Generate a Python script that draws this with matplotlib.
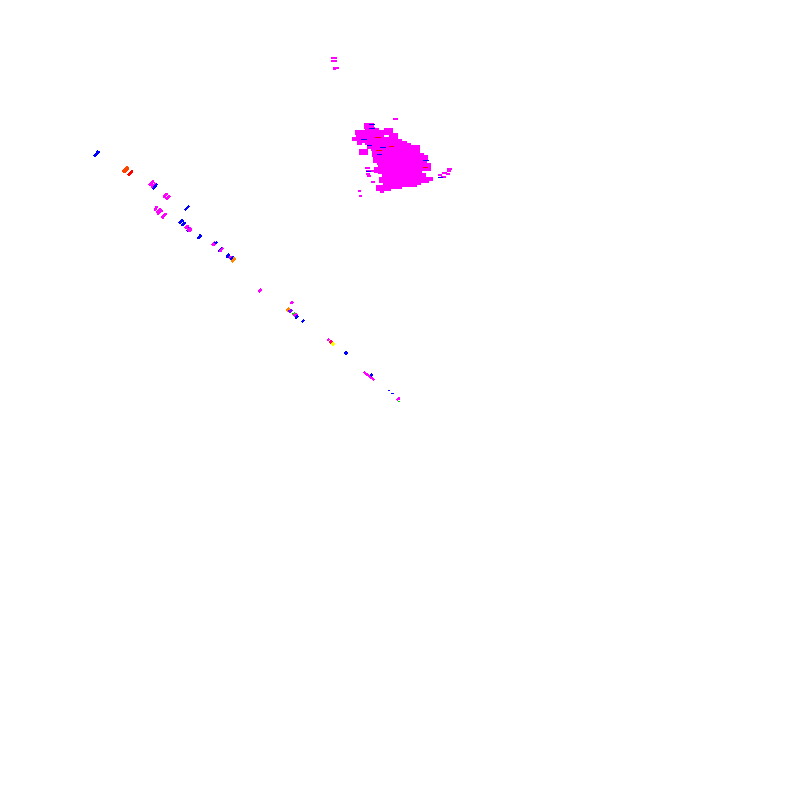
import matplotlib
matplotlib.use("Agg")
import matplotlib.pyplot as plt

# -------------------------------
# Data
# -------------------------------

# Dense block: one row of magenta per y value, (y, start, end)
block_y = [125, 127, 128.5, 130, 130, 132, 132, 133, 135, 135, 137, 137, 139, 141, 143, 143,
           145, 147, 149, 151, 151, 153, 153, 155, 157, 159, 161, 163, 165, 167, 169, 171,
           173, 175, 177, 179, 181, 183, 185, 187, 189, 191]
block_start = [364, 364, 365, 365, 384, 355, 389, 355, 356, 389, 356, 389, 352, 357, 357, 365,
               371, 367, 371, 359, 376, 359, 372, 372, 373, 373, 373, 377, 378, 378, 374, 374,
               382, 382, 382, 379, 379, 383, 383, 376, 376, 380]
block_end = [374, 370, 375, 379, 393, 384, 393, 393, 384, 398, 384, 398, 398, 402, 362, 407,
             411, 420, 420, 368, 415, 368, 420, 424, 428, 428, 427, 427, 431, 431, 431, 422,
             422, 426, 426, 433, 429, 421, 417, 402, 391, 384]

# Loose short rows around the block and the small group at the top
loose_y = [119, 167.5, 170.5, 173.5, 175.5, 181.5, 172.5, 168.5, 171, 172.5, 173.5, 175, 176.5,
           191, 196, 58, 61, 67.5, 68.5]
loose_start = [393, 365, 366, 366, 367, 371, 378, 447, 447, 442, 446, 438, 441,
               358, 359, 331, 331, 333, 333]
loose_end = [398, 370, 374, 370, 371, 375, 382, 452, 451, 447, 450, 442, 446,
             361, 362, 337, 337, 339, 336]

# Blue and red rows over the block
blue_y = [123.5, 127.5, 138.5, 144.5, 146.5, 153.5, 159.5, 170.5, 176.5]
blue_start = [369, 369, 361, 367, 380, 377, 423, 366, 438]
blue_end = [374, 374, 366, 371, 385, 381, 428, 370, 442]
red_y = [136.5, 145.5, 149.5, 166.5]
red_start = [375, 389, 376, 423]
red_end = [380, 393, 381, 427]

# Diagonal dashes along the long streak
dash_x0 = [94.5, 123.5, 128.5, 149.5, 151.5, 153.3, 163.7, 166.3, 154.7, 157.3, 162.3, 185.3,
           179.3, 182.3, 185.3, 187.3, 188.3, 198.3, 212.7, 215.3, 219.3, 220.0, 226.7, 229.3,
           231, 232, 259, 291, 287, 289.3, 293, 294, 295.7, 302, 328, 330, 332, 345, 346.6,
           364, 371, 388, 391.3, 397, 398]
dash_y0 = [156, 172, 175, 185, 187, 188.7, 197.3, 199.3, 210.7, 213.3, 217.7, 209.7,
           223.3, 225.3, 228.3, 230.7, 230.7, 238.3, 245, 243.3, 251.3, 251.3, 257.3, 257.7,
           260, 261.7, 291.7, 303.3, 310.7, 311.7, 314.7, 315.7, 317.7, 321.7, 340.7, 343, 345, 354, 354.5,
           372.3, 376, 390, 392.7, 399.7, 401]
dash_x1 = [98.5, 128, 132.3, 153.5, 155.7, 156.7, 167, 169.7, 156.7, 161.3, 165.7, 188.7,
           182.7, 184.7, 188.3, 190, 191, 200.7, 215.3, 216.7, 222.3, 222.6, 229.3, 232,
           233.7, 234.7, 261, 292.7, 289, 291.7, 295, 296.7, 298, 304, 328.7, 332, 334, 347, 347.4,
           374, 372, 389, 392.7, 399.3, 399]
dash_y1 = [151.5, 167.5, 171.3, 181.5, 183.7, 184.3, 193.7, 196, 206.3, 209.7, 213.7, 206.3,
           220.3, 222.7, 225.7, 227.7, 228.3, 235.3, 242.7, 242.3, 247.7, 248.3, 254.3, 256.7,
           257, 258.3, 289.3, 302, 308.7, 310, 313.3, 314, 316, 320, 339, 341, 343, 352, 354.5,
           379.7, 374, 390, 392.7, 398.3, 401]
dash_color = ["#0000ff", "#ff4400", "#ff0000", "#ff00ff", "#ff00ff", "#0000ff", "#ff00ff", "#ff00ff",
              "#ff00ff", "#ff00ff", "#ff00ff", "#0000ff", "#0000ff", "#0000ff", "#ff00ff", "#0000ff",
              "#ff00ff", "#0000ff", "#ff00ff", "#0000ff", "#0000ff", "#ff00ff", "#0000ff", "#ff00ff",
              "#0000ff", "#ff8800", "#ff00ff", "#ff00ff", "#ff8800", "#8000ff", "#00dd00", "#ff00ff",
              "#0000ff", "#0000ff", "#ff00ff", "#ff0066", "#ffff00", "#0000ff", "#ff00ff", "#ff00ff",
              "#0000ff", "#0000ff", "#0000ff", "#ff00ff", "#00dd00"]
dash_px = [1.6, 2.4, 1.6, 1.6, 1.6, 1.2, 1.6, 1.6, 1.2, 3, 1.6, 1.2, 1.6, 1.2, 1.6, 1.2, 3, 1.6, 2.4,
           1.2, 1.6, 1.2, 1.6, 1.2, 1.6, 1.6, 1.2, 1, 2, 1.5, 1.5, 1.5, 1.5, 1, 1, 2, 2, 2, 1, 1,
           1, 1, 1, 1, 1]

# -------------------------------
# Plot
# -------------------------------

fig = plt.figure(figsize=(8, 8), dpi=100)
ax = fig.add_axes([0, 0, 1, 1])
ax.set_xlim(0, 800)
ax.set_ylim(800, 0)
ax.axis("off")

px = 72 / fig.dpi  # one pixel in points

ax.hlines(block_y, block_start, block_end, colors="#ff00ff", linewidth=2.2 * px, antialiased=False)
ax.hlines(loose_y, loose_start, loose_end, colors="#ff00ff", linewidth=2 * px, antialiased=False)
ax.hlines(blue_y, blue_start, blue_end, colors="#0000ff", linewidth=0.6 * px, antialiased=False, zorder=3)
ax.hlines(red_y, red_start, red_end, colors="#ff0000", linewidth=0.6 * px, antialiased=False, zorder=3)

for i in range(len(dash_x0)):
    ax.plot([dash_x0[i], dash_x1[i]], [dash_y0[i], dash_y1[i]], color=dash_color[i],
            linewidth=dash_px[i] * px, solid_capstyle="butt", antialiased=False)

fig.savefig("out.png", dpi=100, facecolor="white")
